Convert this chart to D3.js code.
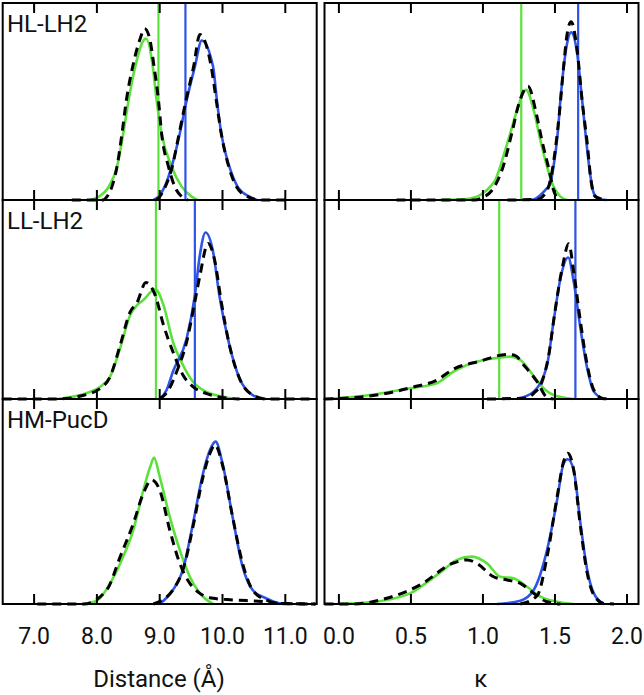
<!DOCTYPE html>
<html>
<head>
<meta charset="utf-8">
<script src="https://cdn.jsdelivr.net/npm/d3@7"></script>
<style>
  body { margin: 0; background: #fff; }
  text { font-family: Roboto, "Noto Sans", sans-serif; fill: #111; }
</style>
</head>
<body>
<div id="chart"></div>
<script>
// row names and tick values
const rowNames = ["HL-LH2", "LL-LH2", "HM-PucD"];
const distTicks = [7, 8, 9, 10, 11];
const kappaTicks = [0, 0.5, 1, 1.5, 2];

// relative density: [value, height]
// HL-LH2, distance
const hlDistGreen = [[7.9,0],[8.03,0.017],[8.19,0.068],[8.32,0.169],[8.42,0.338],[8.505,0.508],[8.61,0.677],[8.78,0.82],[8.89,0.677],[8.95,0.508],[9.03,0.338],[9.19,0.169],[9.35,0.068],[9.51,0.017],[9.6,0]];
const hlDistGreenFit = [[7.6,0],[8.1,0],[8.16,0.017],[8.24,0.068],[8.32,0.169],[8.40,0.338],[8.47,0.508],[8.57,0.677],[8.69,0.82],[8.76,0.87],[8.84,0.82],[8.91,0.677],[8.98,0.508],[9.03,0.338],[9.14,0.169],[9.24,0.068],[9.35,0.017],[9.45,0]];
const hlDistBlue = [[8.9,0],[8.98,0.017],[9.08,0.068],[9.19,0.169],[9.32,0.338],[9.43,0.508],[9.56,0.677],[9.67,0.81],[9.85,0.677],[9.91,0.508],[9.98,0.338],[10.11,0.169],[10.24,0.068],[10.43,0.017],[10.55,0]];
const hlDistBlueFit = [[8.95,0],[9.0,0.017],[9.09,0.068],[9.2,0.169],[9.31,0.338],[9.42,0.508],[9.54,0.677],[9.64,0.84],[9.82,0.677],[9.9,0.508],[9.98,0.338],[10.1,0.169],[10.22,0.068],[10.4,0.017],[10.6,0],[11.03,0]];
// HL-LH2, kappa
const hlKapGreen = [[0.70,0],[0.865,0.003],[0.958,0.017],[1.004,0.037],[1.051,0.068],[1.086,0.102],[1.12,0.169],[1.155,0.254],[1.19,0.339],[1.237,0.457],[1.30,0.559],[1.352,0.457],[1.40,0.30],[1.445,0.169],[1.49,0.068],[1.538,0.017],[1.585,0]];
const hlKapGreenFit = [[0.40,0],[0.94,0],[0.99,0.01],[1.08,0.068],[1.14,0.169],[1.20,0.338],[1.25,0.49],[1.313,0.578],[1.37,0.44],[1.41,0.30],[1.46,0.15],[1.49,0.05],[1.53,0]];
const hlKapBlue = [[1.31,0],[1.352,0.003],[1.399,0.025],[1.434,0.051],[1.468,0.084],[1.49,0.169],[1.519,0.338],[1.538,0.508],[1.561,0.677],[1.584,0.795],[1.612,0.851],[1.654,0.745],[1.677,0.592],[1.70,0.423],[1.724,0.254],[1.747,0.118],[1.77,0.034],[1.816,0.003],[1.86,0]];
const hlKapBlueFit = [[1.17,0],[1.375,0.003],[1.434,0.034],[1.468,0.1],[1.502,0.254],[1.533,0.457],[1.56,0.677],[1.584,0.84],[1.612,0.905],[1.654,0.76],[1.688,0.508],[1.724,0.288],[1.75,0.1],[1.78,0.017],[1.86,0]];
// LL-LH2, distance
const llDistGreen = [[7.37,0],[7.74,0.02],[7.90,0.037],[8.055,0.062],[8.21,0.112],[8.37,0.255],[8.53,0.422],[8.64,0.472],[8.74,0.497],[8.93,0.553],[9.06,0.472],[9.21,0.288],[9.37,0.171],[9.53,0.087],[9.74,0.037],[10.06,0.008],[10.27,0]];
const llDistGreenFit = [[6.5,0],[7.37,0],[7.74,0.015],[8.055,0.054],[8.21,0.112],[8.37,0.27],[8.53,0.438],[8.64,0.485],[8.78,0.586],[8.93,0.52],[9.06,0.372],[9.21,0.238],[9.37,0.121],[9.53,0.062],[9.74,0.028],[10.06,0.005],[10.27,0]];
const llDistBlue = [[9.0,0],[9.11,0.045],[9.21,0.137],[9.43,0.305],[9.56,0.52],[9.64,0.724],[9.73,0.837],[9.85,0.74],[9.95,0.52],[10.11,0.271],[10.27,0.104],[10.48,0.02],[10.69,0]];
const llDistBlueFit = [[9.0,0],[9.14,0.045],[9.27,0.137],[9.43,0.288],[9.56,0.489],[9.64,0.62],[9.77,0.782],[9.88,0.69],[9.98,0.489],[10.11,0.271],[10.27,0.104],[10.48,0.02],[10.69,0],[11.45,0]];
// LL-LH2, kappa
const llKapGreen = [[-0.085,0],[0.216,0.02],[0.494,0.054],[0.68,0.079],[0.795,0.137],[0.889,0.171],[1.004,0.196],[1.12,0.208],[1.19,0.213],[1.26,0.196],[1.33,0.137],[1.40,0.07],[1.49,0.02],[1.63,0]];
const llKapGreenFit = [[-0.1,0],[0.262,0.02],[0.517,0.06],[0.68,0.095],[0.795,0.15],[0.98,0.19],[1.167,0.224],[1.225,0.218],[1.283,0.171],[1.376,0.087],[1.445,0.008],[1.49,0]];
const llKapBlue = [[1.237,0],[1.352,0.037],[1.445,0.171],[1.49,0.388],[1.538,0.606],[1.592,0.711],[1.63,0.59],[1.677,0.355],[1.724,0.154],[1.77,0.037],[1.84,0]];
const llKapBlueFit = [[1.028,0],[1.30,0.005],[1.352,0.028],[1.41,0.087],[1.457,0.221],[1.50,0.44],[1.55,0.657],[1.596,0.78],[1.63,0.64],[1.677,0.388],[1.724,0.171],[1.77,0.045],[1.83,0.003],[1.88,0]];
// HM-PucD, distance
const hmDistGreen = [[7.79,0],[8.0,0.016],[8.21,0.101],[8.37,0.198],[8.58,0.361],[8.74,0.556],[8.85,0.67],[8.91,0.714],[9.0,0.621],[9.16,0.426],[9.32,0.263],[9.48,0.133],[9.64,0.052],[9.85,0]];
const hmDistGreenFit = [[7.05,0],[7.79,0],[8.16,0.07],[8.37,0.23],[8.58,0.393],[8.74,0.54],[8.87,0.605],[9.0,0.556],[9.16,0.361],[9.32,0.198],[9.48,0.101],[9.64,0.052],[9.85,0.028],[10.16,0.02],[10.69,0.011],[10.9,0.003],[11.48,0]];
const hmDistBlue = [[9.0,0],[9.21,0.068],[9.37,0.166],[9.53,0.393],[9.69,0.637],[9.8,0.751],[9.89,0.792],[10.0,0.686],[10.16,0.426],[10.32,0.182],[10.48,0.068],[10.69,0.028],[10.9,0.003],[11.0,0]];
const hmDistBlueFit = [[8.9,0],[9.21,0.068],[9.4,0.198],[9.53,0.377],[9.69,0.62],[9.8,0.735],[9.88,0.776],[10.0,0.678],[10.16,0.426],[10.32,0.198],[10.48,0.068],[10.69,0.02],[10.9,0.003],[11.48,0]];
// HM-PucD, kappa
const hmKapGreen = [[0.007,0],[0.216,0.008],[0.494,0.052],[0.633,0.117],[0.726,0.166],[0.819,0.215],[0.923,0.231],[1.028,0.198],[1.12,0.133],[1.213,0.125],[1.306,0.084],[1.40,0.036],[1.515,0.011],[1.63,0]];
const hmKapGreenFit = [[-0.1,0],[0.1,0],[0.332,0.028],[0.564,0.093],[0.795,0.2],[0.889,0.215],[0.958,0.198],[1.074,0.133],[1.167,0.117],[1.26,0.101],[1.352,0.052],[1.445,0.011],[1.538,0]];
const hmKapBlue = [[1.097,0],[1.26,0.016],[1.352,0.068],[1.445,0.263],[1.515,0.507],[1.56,0.686],[1.589,0.706],[1.63,0.654],[1.677,0.393],[1.724,0.166],[1.77,0.052],[1.84,0]];
const hmKapBlueFit = [[1.26,0],[1.376,0.04],[1.445,0.23],[1.515,0.523],[1.56,0.695],[1.589,0.735],[1.63,0.654],[1.677,0.377],[1.724,0.15],[1.77,0.044],[1.84,0.003],[1.91,0]];

// vertical marker lines (green, blue)
const hlDistMarks = [8.98, 9.41];
const llDistMarks = [8.94, 9.56];
const hlKapMarks = [1.266, 1.661];
const llKapMarks = [1.113, 1.642];

const green = "#5ae23a", blue = "#2d54e6";

const panels = [
  { row: 0, col: 0, curves: [hlDistGreen, hlDistBlue, hlDistGreenFit, hlDistBlueFit], marks: hlDistMarks },
  { row: 0, col: 1, curves: [hlKapGreen, hlKapBlue, hlKapGreenFit, hlKapBlueFit], marks: hlKapMarks },
  { row: 1, col: 0, curves: [llDistGreen, llDistBlue, llDistGreenFit, llDistBlueFit], marks: llDistMarks },
  { row: 1, col: 1, curves: [llKapGreen, llKapBlue, llKapGreenFit, llKapBlueFit], marks: llKapMarks },
  { row: 2, col: 0, curves: [hmDistGreen, hmDistBlue, hmDistGreenFit, hmDistBlueFit], marks: [] },
  { row: 2, col: 1, curves: [hmKapGreen, hmKapBlue, hmKapGreenFit, hmKapBlueFit], marks: [] }
];

const svg = d3.select("#chart")
  .append("svg")
  .attr("width", 644)
  .attr("height", 695);

// panel geometry
const rowEdges = [[3, 200], [200, 399], [399, 604]];
const xDist = d3.scaleLinear().domain([6.5, 11.5]).range([2.7, 316.7]);
const xKap = d3.scaleLinear().domain([-0.1, 2.08]).range([324.5, 638.5]);
const xScales = [xDist, xKap];
const ticks = [distTicks, kappaTicks];

panels.forEach(function(p) {
  const x = xScales[p.col];
  const y = d3.scaleLinear().domain([0, 1]).range([rowEdges[p.row][1], rowEdges[p.row][0]]);
  const g = svg.append("g");
  const [x0, x1] = x.range();
  const [yb, yt] = y.range();

  const line = d3.line()
    .curve(d3.curveMonotoneX)
    .x(function(d) { return x(d[0]); })
    .y(function(d) { return y(d[1]); });

  // solid curves
  g.append("path").datum(p.curves[0])
    .attr("d", line).attr("fill", "none").attr("stroke", green).attr("stroke-width", 2.6);
  g.append("path").datum(p.curves[1])
    .attr("d", line).attr("fill", "none").attr("stroke", blue).attr("stroke-width", 2.6);

  // marker lines
  p.marks.forEach(function(m, i) {
    g.append("line")
      .attr("x1", x(m)).attr("x2", x(m))
      .attr("y1", yt).attr("y2", yb)
      .attr("stroke", i === 0 ? green : blue)
      .attr("stroke-width", 2.2);
  });

  // dashed fits
  [p.curves[2], p.curves[3]].forEach(function(c) {
    g.append("path").datum(c)
      .attr("d", line).attr("fill", "none")
      .attr("stroke", "#000").attr("stroke-width", 3)
      .attr("stroke-dasharray", "9,6");
  });

  // inward ticks top and bottom
  ticks[p.col].forEach(function(t) {
    g.append("line").attr("x1", x(t)).attr("x2", x(t))
      .attr("y1", yt).attr("y2", yt + 10)
      .attr("stroke", "#000").attr("stroke-width", 2);
    g.append("line").attr("x1", x(t)).attr("x2", x(t))
      .attr("y1", yb).attr("y2", yb - 10)
      .attr("stroke", "#000").attr("stroke-width", 2);
  });

  // frame
  g.append("rect")
    .attr("x", x0).attr("y", yt)
    .attr("width", x1 - x0).attr("height", yb - yt)
    .attr("fill", "none").attr("stroke", "#000").attr("stroke-width", 2);

  if (p.col === 0) {
    g.append("text")
      .attr("x", 7).attr("y", yt + 29)
      .style("font-size", "24px")
      .text(rowNames[p.row]);
  }
});

// tick labels along the bottom
const fmt = d3.format(".1f");
xScales.forEach(function(x, i) {
  svg.append("g")
    .selectAll("text")
    .data(ticks[i])
    .join("text")
    .attr("x", function(d) { return x(d); })
    .attr("y", 644)
    .attr("text-anchor", "middle")
    .style("font-size", "23px")
    .text(function(d) { return fmt(d); });
});

svg.append("text")
  .attr("x", 159).attr("y", 687)
  .attr("text-anchor", "middle")
  .style("font-size", "24px")
  .text("Distance (Å)");

svg.append("text")
  .attr("x", 481).attr("y", 687)
  .attr("text-anchor", "middle")
  .style("font-size", "24px")
  .text("κ");
</script>
</body>
</html>
